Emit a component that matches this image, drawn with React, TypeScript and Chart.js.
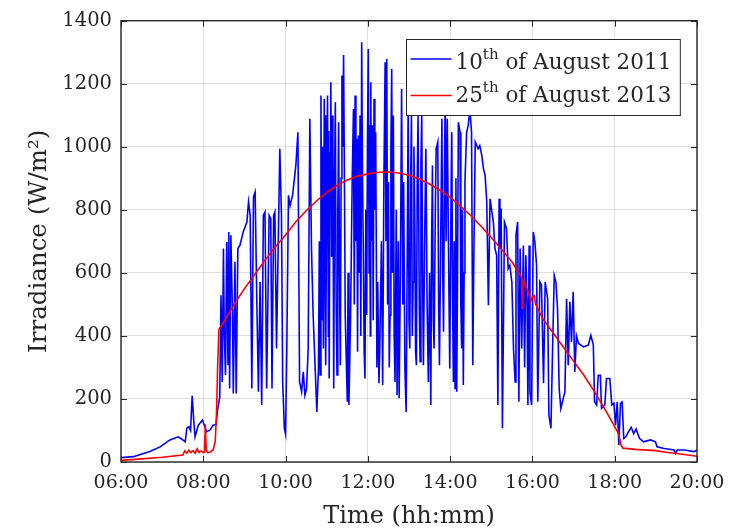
import React, { useEffect, useRef } from 'react';
import { Chart, registerables } from 'chart.js';

Chart.register(...registerables);

const FONT = "'DejaVu Serif', serif";
const INK = '#262626';

const seriesNames = ['10th of August 2011', '25th of August 2013'];

const xTicks = [6, 8, 10, 12, 14, 16, 18, 20];
const yTicks = [0, 200, 400, 600, 800, 1000, 1200, 1400];

const blueTimes = [
  6.00, 6.30, 6.70, 6.95, 7.19, 7.39, 7.47, 7.56, 7.60, 7.65, 7.69, 7.73, 7.77, 7.80, 7.88, 7.98, 8.08, 8.16, 8.24, 8.31, 8.34, 8.38,
  8.40, 8.43, 8.46, 8.49, 8.51, 8.54, 8.57, 8.60, 8.62, 8.64, 8.67, 8.71, 8.73, 8.77, 8.80, 8.84, 8.89, 8.97, 9.06, 9.10, 9.14, 9.18,
  9.22, 9.26, 9.30, 9.34, 9.38, 9.42, 9.46, 9.50, 9.54, 9.60, 9.64, 9.67, 9.71, 9.74, 9.78, 9.82, 9.86, 9.90, 9.93, 9.97, 10.00,
  10.03, 10.07, 10.11, 10.17, 10.25, 10.30, 10.34, 10.39, 10.43, 10.47, 10.51, 10.55, 10.59, 10.63, 10.67, 10.76,
  10.80, 10.82, 10.84, 10.86, 10.88, 10.90, 10.92, 10.94, 10.96, 10.97, 10.98, 11.00, 11.02, 11.04, 11.05, 11.06, 11.08, 11.10,
  11.12, 11.13, 11.15, 11.17, 11.19, 11.21, 11.23, 11.25, 11.27, 11.29, 11.31, 11.33, 11.35, 11.37, 11.39, 11.41, 11.43, 11.45,
  11.48, 11.50, 11.52, 11.54, 11.58, 11.62, 11.65, 11.67, 11.69, 11.71, 11.73, 11.75, 11.77, 11.79, 11.81, 11.83, 11.85, 11.87,
  11.89, 11.91, 11.93, 11.95, 11.97, 11.99, 12.01, 12.03, 12.04, 12.06, 12.07, 12.09, 12.11, 12.13, 12.15, 12.17, 12.19, 12.22,
  12.24, 12.27, 12.29, 12.33, 12.36, 12.39, 12.42, 12.44, 12.46, 12.48, 12.50, 12.52, 12.54, 12.56, 12.58, 12.60, 12.62, 12.64,
  12.66, 12.69, 12.71, 12.74, 12.76, 12.79, 12.82, 12.85, 12.87, 12.90, 12.93, 12.96, 12.98, 13.00, 13.02, 13.04, 13.06, 13.08,
  13.10, 13.12, 13.14, 13.16, 13.18, 13.20, 13.22, 13.25, 13.27, 13.29, 13.31, 13.33, 13.35, 13.38, 13.41, 13.44, 13.47, 13.50,
  13.53, 13.55, 13.57, 13.59, 13.61, 13.64, 13.66, 13.70, 13.72, 13.74, 13.77, 13.80, 13.82, 13.84, 13.86, 13.88, 13.90, 13.93,
  13.96, 13.99, 14.02, 14.04, 14.06, 14.08, 14.10, 14.12, 14.14, 14.16, 14.18, 14.20, 14.24, 14.26, 14.28, 14.30, 14.32, 14.34,
  14.36, 14.40, 14.44, 14.48, 14.52, 14.55, 14.58, 14.61, 14.68, 14.72, 14.77, 14.81, 14.85, 14.89, 14.93, 14.97, 15.05, 15.09,
  15.13, 15.16, 15.19, 15.21, 15.24, 15.27, 15.29, 15.32, 15.37, 15.41, 15.45, 15.50, 15.54, 15.58, 15.60, 15.64, 15.67, 15.70,
  15.74, 15.78, 15.81, 15.84, 15.87, 15.89, 15.92, 15.94, 15.98, 16.02, 16.06, 16.10, 16.13, 16.18, 16.22, 16.27, 16.31, 16.37,
  16.40, 16.45, 16.49, 16.53, 16.57, 16.61, 16.65, 16.69, 16.75, 16.79, 16.83, 16.87, 16.91, 16.95, 16.99, 17.03, 17.07, 17.12,
  17.24, 17.36, 17.42, 17.48, 17.51, 17.56, 17.60, 17.65, 17.68, 17.76, 17.80, 17.88, 17.93, 17.98, 18.02, 18.06, 18.10, 18.14,
  18.18, 18.22, 18.27, 18.33, 18.40, 18.46, 18.52, 18.60, 18.70, 18.87, 18.99, 19.03, 19.20, 19.44, 19.48, 19.52, 19.69, 19.93,
  20.00,
];

const blueValues = [
  14, 17, 33, 48, 70, 80, 73, 64, 107, 112, 100, 210, 128, 80, 117, 133, 96, 101, 117, 119, 159, 191,
  205, 529, 254, 677, 413, 276, 698, 307, 730, 233, 719, 466, 217, 635, 217, 677, 687, 730, 761, 825, 782, 233,
  840, 856, 518, 223, 571, 181, 782, 793, 233, 782, 772, 233, 782, 793, 360, 677, 994, 782, 254, 107, 88,
  360, 846, 814, 846, 941, 1046, 254, 223, 286, 212, 233, 360, 1089, 677, 466, 159,
  300, 700, 276, 1163, 450, 1000, 360, 1152, 600, 1100, 307, 850, 1163, 400, 1050, 265, 980, 1205,
  650, 1099, 1000, 233, 900, 1141, 500, 276, 800, 1078, 600, 307, 900, 1226, 1000, 1291, 900, 466,
  300, 191, 600, 181, 466, 900, 1120, 500, 1163, 700, 1025, 350, 1036, 600, 1099, 400, 1332, 900,
  677, 350, 265, 800, 466, 1000, 1310, 600, 1068, 400, 1205, 700, 1068, 450, 1152, 800, 1046, 300,
  571, 250, 360, 700, 244, 900, 1268, 700, 1279, 500, 888, 300, 466, 1000, 1247, 600, 1099, 400,
  254, 800, 212, 700, 202, 600, 1184, 500, 888, 300, 159, 700, 1163, 450, 360, 900, 1099, 400,
  571, 1000, 782, 350, 307, 900, 1099, 500, 318, 950, 1099, 600, 307, 700, 994, 500, 254, 600,
  181, 700, 941, 450, 360, 800, 994, 1015, 500, 307, 700, 1089, 600, 413, 900, 1150, 700, 1089,
  677, 297, 800, 1046, 500, 254, 700, 233, 900, 223, 600, 1078, 1046, 500, 360, 800, 244, 600,
  888, 1046, 1068, 1120, 1046, 307, 700, 1015, 994, 1004, 972, 930, 909, 825, 497, 835, 761, 677,
  656, 181, 835, 677, 804, 107, 360, 761, 740, 613, 624, 571, 360, 254, 719, 761, 191, 677,
  360, 687, 300, 656, 500, 181, 687, 223, 181, 730, 698, 624, 191, 571, 561, 250, 571, 518,
  149, 107, 360, 592, 571, 487, 233, 170, 202, 223, 518, 307, 508, 381, 540, 286, 400, 376,
  365, 371, 402, 371, 191, 181, 275, 275, 170, 181, 265, 265, 181, 186, 117, 190, 54, 185,
  190, 75, 80, 95, 110, 90, 105, 75, 64, 70, 64, 48, 43, 38, 27, 38, 38, 33,
  38,
];

const redTimes = [
  6.00, 6.50, 7.00, 7.50, 7.55, 7.60, 7.65, 7.70, 7.75, 7.80, 7.85, 7.90, 7.95, 8.00, 8.03, 8.05, 8.07, 8.10, 8.15, 8.20, 8.24,
  8.29, 8.32, 8.35, 8.38, 8.50, 8.75, 9.00, 9.25, 9.50, 9.75, 10.00, 10.25, 10.50, 10.75, 11.00, 11.25, 11.50, 11.75, 12.00,
  12.25, 12.50, 12.75, 13.00, 13.25, 13.50, 13.75, 14.00, 14.25, 14.50, 14.75, 15.00, 15.25, 15.50, 15.72, 15.74, 15.75, 15.77,
  15.82, 15.88, 15.92, 15.96, 16.00, 16.04, 16.08, 16.25, 16.50, 16.75, 17.00, 17.25, 17.50, 17.75, 18.00, 18.10, 18.15, 18.20,
  18.50, 19.00, 19.25, 19.50, 20.00,
];

const redValues = [
  5, 10, 15, 22, 35, 28, 38, 30, 36, 28, 42, 30, 35, 30, 32, 120, 40, 30, 30, 35, 38,
  65, 150, 310, 420, 445, 500, 550, 595, 640, 682, 720, 762, 797, 828, 855, 877, 895, 907, 914,
  919, 920, 917, 910, 898, 882, 862, 840, 812, 782, 748, 712, 674, 635, 590, 582, 487, 575,
  565, 545, 530, 510, 525, 528, 500, 455, 410, 365, 320, 275, 225, 170, 112, 88, 55, 44,
  40, 36, 31, 27, 18,
];

const fmtTime = (v: number) => `${String(Math.round(v)).padStart(2, '0')}:00`;

const framePlugin = {
  id: 'matlabFrame',
  afterDatasetsDraw(chart: any) {
    const { ctx, chartArea: a, scales } = chart;
    ctx.save();
    ctx.strokeStyle = INK;
    ctx.lineWidth = 1;
    const tl = 6;
    ctx.beginPath();
    for (const v of xTicks) {
      const px = Math.round(scales.x.getPixelForValue(v)) + 0.5;
      ctx.moveTo(px, a.bottom);
      ctx.lineTo(px, a.bottom - tl);
      ctx.moveTo(px, a.top);
      ctx.lineTo(px, a.top + tl);
    }
    for (const v of yTicks) {
      const py = Math.round(scales.y.getPixelForValue(v)) + 0.5;
      ctx.moveTo(a.left, py);
      ctx.lineTo(a.left + tl, py);
      ctx.moveTo(a.right, py);
      ctx.lineTo(a.right - tl, py);
    }
    ctx.stroke();
    ctx.lineWidth = 1.4;
    ctx.strokeRect(a.left, a.top, a.right - a.left, a.bottom - a.top);
    ctx.restore();
  },
};

const legendPlugin = {
  id: 'supLegend',
  afterDraw(chart: any) {
    const { ctx, chartArea: a } = chart;
    const mainFont = `21.5px ${FONT}`;
    const supFont = `15px ${FONT}`;
    const parts = chart.data.datasets.map((ds: any) => {
      const m = /^(\d+)(st|nd|rd|th)(.*)$/.exec(ds.label) || [ds.label, ds.label, '', ''];
      return { base: m[1], sup: m[2], rest: m[3], color: ds.borderColor };
    });
    ctx.save();
    let maxW = 0;
    const widths = parts.map((p: any) => {
      ctx.font = mainFont;
      const wb = ctx.measureText(p.base).width;
      const wr = ctx.measureText(p.rest).width;
      ctx.font = supFont;
      const ws = ctx.measureText(p.sup).width;
      const w = wb + ws + wr;
      maxW = Math.max(maxW, w);
      return { wb, ws, wr };
    });
    const lineLen = 41;
    const w = 4 + lineLen + 4 + maxW + 9;
    const h = 76;
    const x0 = Math.round(a.right - 17 - w) + 0.5;
    const y0 = Math.round(a.top + 18) + 0.5;
    ctx.fillStyle = '#ffffff';
    ctx.fillRect(x0, y0, w, h);
    ctx.strokeStyle = INK;
    ctx.lineWidth = 1;
    ctx.strokeRect(x0, y0, w, h);
    const rows = [
      { line: 19.5, base: 29, sup: 19 },
      { line: 56, base: 62, sup: 52 },
    ];
    parts.forEach((p: any, i: number) => {
      const r = rows[i];
      ctx.strokeStyle = p.color;
      ctx.lineWidth = 1.6;
      ctx.beginPath();
      ctx.moveTo(x0 + 4, y0 + r.line);
      ctx.lineTo(x0 + 4 + lineLen, y0 + r.line);
      ctx.stroke();
      ctx.fillStyle = INK;
      ctx.textBaseline = 'alphabetic';
      ctx.textAlign = 'left';
      let tx = x0 + 4 + lineLen + 4;
      ctx.font = mainFont;
      ctx.fillText(p.base, tx, y0 + r.base);
      tx += widths[i].wb;
      ctx.font = supFont;
      ctx.fillText(p.sup, tx, y0 + r.sup);
      tx += widths[i].ws;
      ctx.font = mainFont;
      ctx.fillText(p.rest, tx, y0 + r.base);
    });
    ctx.restore();
  },
};

export default function App() {
  const ref = useRef<HTMLCanvasElement | null>(null);
  useEffect(() => {
    document.body.style.margin = '0';
    const canvas = ref.current;
    if (!canvas) return;
    const chart = new Chart(canvas, {
      type: 'line',
      data: {
        datasets: [
          {
            label: seriesNames[0],
            data: blueTimes.map((t, i) => ({ x: t, y: blueValues[i] })),
            borderColor: '#0000ff',
            backgroundColor: '#0000ff',
            borderWidth: 1.6,
            pointRadius: 0,
            tension: 0,
            order: 2,
          },
          {
            label: seriesNames[1],
            data: redTimes.map((t, i) => ({ x: t, y: redValues[i] })),
            borderColor: '#ff0000',
            backgroundColor: '#ff0000',
            borderWidth: 1.6,
            pointRadius: 0,
            tension: 0,
            order: 1,
          },
        ],
      },
      options: {
        animation: false,
        responsive: false,
        layout: { padding: { left: 0, right: 51, top: 20, bottom: 0 } },
        plugins: { legend: { display: false }, tooltip: { enabled: false } },
        scales: {
          x: {
            type: 'linear',
            min: 6,
            max: 20,
            afterFit: (s: any) => { s.height = 69; },
            afterBuildTicks: (s: any) => { s.ticks = xTicks.map((v) => ({ value: v })); },
            ticks: {
              callback: (v: any) => fmtTime(Number(v)),
              font: { family: FONT, size: 19 },
              color: INK,
              padding: 10,
              maxRotation: 0,
              autoSkip: false,
            },
            grid: { color: 'rgba(38,38,38,0.15)', drawTicks: false },
            border: { display: false },
            title: {
              display: true,
              text: 'Time (hh:mm)',
              font: { family: FONT, size: 24 },
              color: INK,
              padding: { top: 0, bottom: 0 },
            },
          },
          y: {
            type: 'linear',
            min: 0,
            max: 1400,
            afterFit: (s: any) => { s.width = 121; },
            afterBuildTicks: (s: any) => { s.ticks = yTicks.map((v) => ({ value: v })); },
            ticks: {
              callback: (v: any) => String(v),
              font: { family: FONT, size: 19.5 },
              color: INK,
              padding: 9,
              autoSkip: false,
            },
            grid: { color: 'rgba(38,38,38,0.15)', drawTicks: false },
            border: { display: false },
            title: {
              display: true,
              text: 'Irradiance (W/m²)',
              font: { family: FONT, size: 24.5 },
              color: INK,
              padding: { top: 25, bottom: 0 },
            },
          },
        },
      },
      plugins: [framePlugin, legendPlugin],
    });
    return () => chart.destroy();
  }, []);
  return (
    <div style={{ width: 748, height: 531 }}>
      <canvas ref={ref} width={748} height={531} style={{ display: 'block' }} />
    </div>
  );
}
